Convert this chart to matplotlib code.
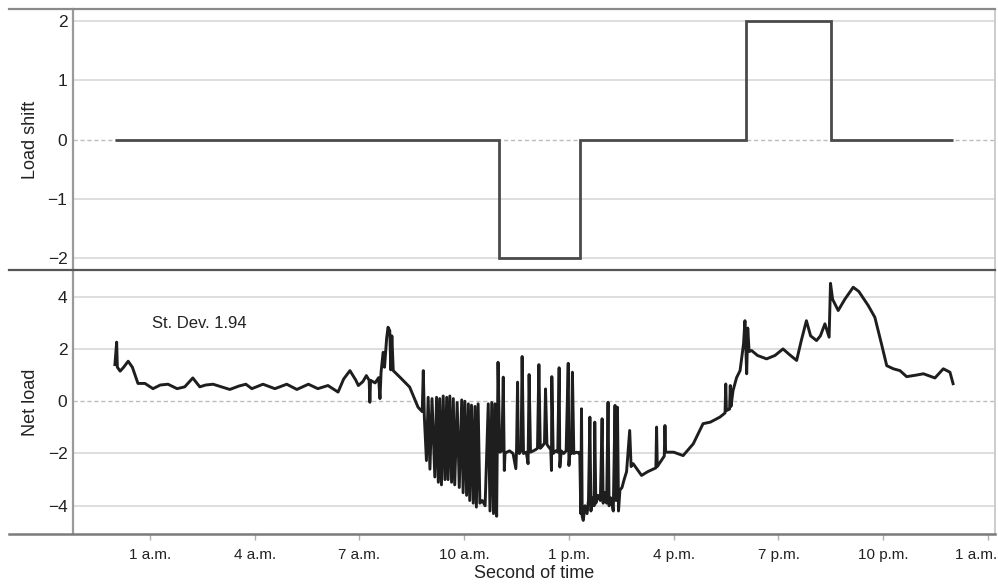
import matplotlib
matplotlib.use("Agg")
import matplotlib.pyplot as plt
from matplotlib.lines import Line2D
from matplotlib.transforms import ScaledTranslation

plt.rcParams["font.family"] = ["Liberation Sans", "DejaVu Sans"]

# x axis is hour of the day (0..24); ticks every 3 hours from 1 a.m.
tick_hours = [1, 4, 7, 10, 13, 16, 19, 22, 25]
tick_labels = ["1 a.m.", "4 a.m.", "7 a.m.", "10 a.m.", "1 p.m.",
               "4 p.m.", "7 p.m.", "10 p.m.", "1 a.m."]

# load shift schedule (step function)
shift_edges = [0, 11, 13.33, 18.08, 20.5, 24]
shift_values = [0, -2, 0, 2, 0]

# net load
night_h = [0.00, 0.05, 0.07, 0.15, 0.25, 0.38, 0.50, 0.66, 0.86, 1.09, 1.30, 1.52,
           1.78, 2.00, 2.23, 2.43, 2.60, 2.81, 3.05, 3.29, 3.55, 3.75, 3.92, 4.24,
           4.58, 4.92, 5.21, 5.54, 5.81, 6.10, 6.39, 6.55, 6.73, 6.90, 6.97, 7.10,
           7.20, 7.28, 7.30, 7.32, 7.45, 7.55, 7.59, 7.62, 7.68, 7.72, 7.78, 7.82,
           7.87, 7.90, 7.93, 7.97, 8.16, 8.44, 8.68, 8.80, 8.83, 8.86]
night_v = [1.40, 2.26, 1.30, 1.15, 1.30, 1.53, 1.30, 0.68, 0.68, 0.48, 0.62, 0.65,
           0.48, 0.55, 0.89, 0.55, 0.62, 0.65, 0.55, 0.45, 0.58, 0.65, 0.48, 0.65,
           0.48, 0.65, 0.45, 0.65, 0.48, 0.60, 0.35, 0.85, 1.17, 0.80, 0.60, 0.75,
           0.98, 0.80, -0.04, 0.80, 0.70, 0.90, 0.10, 1.10, 1.87, 1.30, 2.40, 2.83,
           2.70, 1.20, 2.50, 1.17, 0.92, 0.54, -0.23, -0.40, 1.17, -0.60]

morning_h = [8.92, 8.97, 9.02, 9.08, 9.16, 9.21, 9.26, 9.30, 9.35, 9.40, 9.45, 9.50,
             9.54, 9.59, 9.64, 9.69, 9.73, 9.80, 9.86, 9.93, 9.97, 10.02, 10.07,
             10.12, 10.16, 10.21, 10.26, 10.31, 10.35, 10.40, 10.45, 10.52, 10.60,
             10.69, 10.74, 10.79, 10.84, 10.88, 10.93, 10.97]
morning_v = [-2.27, 0.15, -2.60, 0.10, -2.90, 0.15, -3.10, 0.10, -3.20, 0.20, -3.00,
             0.15, -3.00, 0.20, -3.10, 0.10, -3.20, -0.05, -3.30, 0.05, -3.50, 0.00,
             -3.60, -0.10, -3.80, -0.15, -3.90, -0.20, -4.05, -0.10, -3.90, -3.80,
             -4.00, -0.10, -4.20, -0.05, -4.30, -0.10, -4.40, 1.49]

midday_h = [11.02, 11.08, 11.12, 11.15, 11.17, 11.22, 11.30, 11.40, 11.48, 11.50,
            11.53, 11.55, 11.58, 11.63, 11.66, 11.70, 11.78, 11.83, 11.86, 11.90,
            11.98, 12.05, 12.10, 12.14, 12.18, 12.25, 12.30, 12.33, 12.37, 12.42,
            12.48, 12.50, 12.51, 12.55, 12.62, 12.68, 12.72, 12.74, 12.78, 12.85,
            12.92, 12.98, 13.00, 13.03, 13.07, 13.10, 13.14, 13.22, 13.30]
midday_v = [-1.95, -1.90, 0.92, -2.65, -2.00, -1.95, -1.90, -2.00, -2.58, -1.90,
            0.73, -1.95, -2.00, -1.90, 1.71, -2.00, -1.95, -2.39, 1.02, -1.95,
            -1.90, -1.85, -1.80, 1.40, -1.80, -1.70, -1.60, 0.47, -1.65, -1.75,
            -1.85, -2.65, 0.94, -2.00, -1.90, -1.95, 1.28, -2.52, -1.90, -2.00,
            -1.90, 1.45, -2.46, -1.95, -2.00, 1.11, -2.00, -1.95, -2.00]

after_h = [13.31, 13.34, 13.36, 13.38, 13.41, 13.46, 13.52, 13.56, 13.60, 13.63,
           13.68, 13.72, 13.74, 13.77, 13.83, 13.90, 13.95, 13.98, 14.03, 14.08,
           14.12, 14.15, 14.20, 14.27, 14.32, 14.35, 14.39, 14.42, 14.46, 14.52,
           14.58, 14.65, 14.74, 14.78]
after_v = [-1.95, -4.30, -0.29, -4.40, -4.56, -4.00, -4.30, -3.80, -0.61, -4.20,
           -3.70, -4.00, -0.80, -3.90, -3.60, -3.80, -0.67, -3.90, -3.50, -3.90,
           -0.04, -4.00, -3.70, -4.20, -0.16, -3.80, -0.23, -4.20, -3.40, -3.30,
           -3.00, -2.70, -1.12, -2.50]

evening_h = [14.84, 15.08, 15.25, 15.49, 15.51, 15.53, 15.73, 15.75, 15.77, 16.00,
             16.27, 16.56, 16.84, 17.05, 17.32, 17.47, 17.49, 17.51, 17.60, 17.62,
             17.64, 17.70, 17.80, 17.90, 18.00, 18.04, 18.07, 18.09, 18.12, 18.16,
             18.23, 18.40, 18.66, 18.90, 19.13, 19.30, 19.52, 19.65, 19.80, 19.92,
             20.09, 20.20, 20.33, 20.45, 20.49, 20.55, 20.71, 20.90, 21.14, 21.30,
             21.57, 21.76, 21.95, 22.10, 22.29, 22.48, 22.67, 22.95, 23.15, 23.48,
             23.72, 23.91, 24.00]
evening_v = [-2.39, -2.84, -2.70, -2.55, -0.99, -2.50, -2.10, -0.93, -1.95, -1.95,
             -2.08, -1.63, -0.86, -0.80, -0.61, -0.45, 0.66, -0.36, -0.30, 0.60,
             -0.20, 0.41, 0.90, 1.17, 2.20, 3.08, 1.80, 1.05, 2.80, 1.90,
             1.94, 1.75, 1.62, 1.75, 2.00, 1.80, 1.56, 2.30, 3.08, 2.50,
             2.32, 2.50, 2.96, 2.45, 4.51, 3.90, 3.47, 3.90, 4.36, 4.20,
             3.66, 3.21, 2.19, 1.36, 1.24, 1.17, 0.94, 1.00, 1.05, 0.89,
             1.24, 1.11, 0.67]

net_hours = night_h + morning_h + midday_h + after_h + evening_h
net_load = night_v + morning_v + midday_v + after_v + evening_v

W, H = 998, 585
fig = plt.figure(figsize=(W / 100, H / 100), dpi=100)
x0, x1 = 73, 995
ax1 = fig.add_axes([x0 / W, 1 - 270 / H, (x1 - x0) / W, (270 - 9) / H])
ax2 = fig.add_axes([x0 / W, 1 - 534 / H, (x1 - x0) / W, (534 - 270) / H])

for ax, ticks in ((ax1, [-2, -1, 0, 1, 2]), (ax2, [-4, -2, 0, 2, 4])):
    ax.set_xlim(-1.2, 25.2)
    ax.set_yticks(ticks)
    for t in ticks:
        if t == 0:
            ax.axhline(0, color="#bdbdbd", lw=1.0, ls=(0, (3, 2)), zorder=1)
        else:
            ax.axhline(t, color="#d4d4d4", lw=1.1, zorder=1)
    for side in ("top", "bottom"):
        ax.spines[side].set_visible(False)
    ax.spines["left"].set_color("#9a9a9a")
    ax.spines["left"].set_linewidth(1.6)
    ax.spines["right"].set_color("#c4c4c4")
    ax.spines["right"].set_linewidth(1.2)
    ax.tick_params(axis="y", length=0, pad=4, labelsize=12.5, labelcolor="#222222")

ax1.set_ylim(-2.2, 2.2)
ax2.set_ylim(-5.08, 5.02)

ax1.stairs(shift_values, shift_edges, baseline=None, color="#4a4a4a", lw=2.0, zorder=3)
ax1.set_xticks([])
ax1.set_ylabel("Load shift", fontsize=13, color="#222222", labelpad=6)

ax2.plot(net_hours, net_load, color="#1e1e1e", lw=2.1, zorder=3)
ax2.set_xticks(tick_hours)
ax2.set_xticklabels(tick_labels)
ax2.tick_params(axis="x", length=4, width=1, color="#b0b0b0", pad=6,
                labelsize=11, labelcolor="#222222")
# the last label sits flush with the right edge, as in the original
last = ax2.get_xticklabels()[-1]
last.set_horizontalalignment("right")
last.set_transform(last.get_transform() + ScaledTranslation(0.09, 0, fig.dpi_scale_trans))

ax2.set_ylabel("Net load", fontsize=13, color="#222222", labelpad=6)
ax2.set_xlabel("Second of time", fontsize=13, color="#222222", labelpad=2)
ax2.text(1.06, 2.96, "St. Dev. 1.94", fontsize=12, color="#222222", va="center")

# frame lines that run past the left spine
for y, c, lw in ((9, "#8a8a8a", 1.6), (270, "#555555", 1.6), (534, "#7a7a7a", 1.8)):
    fig.add_artist(Line2D([9 / W, x1 / W], [1 - y / H, 1 - y / H],
                          color=c, lw=lw, transform=fig.transFigure))

fig.savefig("out.png", dpi=100)
